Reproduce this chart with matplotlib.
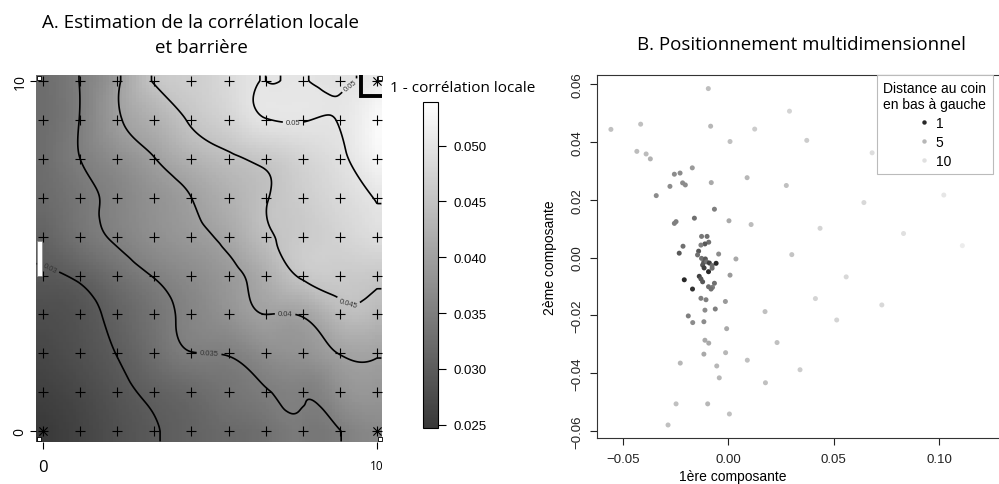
import numpy as np
import matplotlib
matplotlib.use('Agg')
import matplotlib.pyplot as plt
import matplotlib.tri as mtri
from matplotlib.colors import LinearSegmentedColormap, Normalize
from matplotlib.lines import Line2D
from matplotlib.patches import Rectangle

plt.rcParams['font.family'] = ['Liberation Sans', 'DejaVu Sans']
plt.rcParams['axes.unicode_minus'] = True
TITLE_FONT = ['Open Sans', 'DejaVu Sans']

# ---------------- Panel A data: local correlation on a 10x10 grid ----------------
grid_x = np.linspace(0, 10, 10)
grid_y = np.linspace(0, 10, 10)
# rows from y=0 (bottom) to y=10 (top); columns from x=0 to x=10
corr_rows = [
    [0.0250, 0.0265, 0.0283, 0.0298, 0.0310, 0.0320, 0.0330, 0.0343, 0.0349, 0.0365],
    [0.0260, 0.0272, 0.0290, 0.0307, 0.0320, 0.0335, 0.0348, 0.0353, 0.0376, 0.0385],
    [0.0270, 0.0283, 0.0301, 0.0327, 0.0349, 0.0352, 0.0372, 0.0381, 0.0401, 0.0403],
    [0.0280, 0.0288, 0.0310, 0.0335, 0.0360, 0.0380, 0.0400, 0.0403, 0.0437, 0.0435],
    [0.0295, 0.0306, 0.0329, 0.0352, 0.0370, 0.0390, 0.0420, 0.0455, 0.0462, 0.0458],
    [0.0310, 0.0335, 0.0355, 0.0375, 0.0390, 0.0410, 0.0444, 0.0462, 0.0475, 0.0490],
    [0.0322, 0.0340, 0.0359, 0.0380, 0.0400, 0.0424, 0.0448, 0.0466, 0.0484, 0.0502],
    [0.0325, 0.0350, 0.0373, 0.0399, 0.0426, 0.0444, 0.0458, 0.0476, 0.0494, 0.0525],
    [0.0325, 0.0351, 0.0395, 0.0424, 0.0454, 0.0475, 0.0499, 0.0501, 0.0501, 0.0530],
    [0.0325, 0.0351, 0.0394, 0.0453, 0.0466, 0.0485, 0.0500, 0.0501, 0.0496, 0.0510],
]
# a few extra readings between grid nodes (x, y, value)
extra_x = [7.20, 8.30, 8.30, 9.45, 9.60, 8.15, 7.55]
extra_y = [9.45, 9.45, 10.0, 9.45, 10.0, 0.55, 0.85]
extra_val = [0.0503, 0.0502, 0.0497, 0.0509, 0.0503, 0.0346, 0.0353]

contour_levels = [0.03, 0.035, 0.04, 0.045, 0.05]
label_positions = [(0.2, 4.66), (4.97, 2.17), (7.25, 3.37), (9.13, 3.63), (7.49, 8.71), (9.13, 9.95)]
corner_x = [0, 10, 10]
corner_y = [0, 0, 10]
square_x = [-0.12, 10.09, -0.12, 10.09]
square_y = [-0.23, -0.23, 10.09, 10.09]
barrier_x = [9.51, 9.51, 10.4]
barrier_y = [10.4, 9.56, 9.56]
cbar_ticks = [0.025, 0.030, 0.035, 0.040, 0.045, 0.050]
cbar_min, cbar_max = 0.0247, 0.0539

# ---------------- Panel B data: MDS coordinates and distance to corner ----------------
mds_x = [-0.0095, -0.0557, -0.0416, -0.0084, 0.0125, 0.0290, 0.0008, 0.0372, -0.0434, -0.0390,
         -0.0370, 0.0682, -0.0171, -0.0256, -0.0229, -0.0217, -0.0204, -0.0277, -0.0081, 0.0089,
         0.0275, -0.0342, 0.1022, 0.0643, -0.0066, -0.0161, -0.0248, -0.0256, 0.0003, 0.0108,
         0.0435, 0.0831, 0.1110, -0.0215, -0.0127, -0.0101, -0.0093, -0.0111, -0.0130, -0.0233,
         -0.0141, -0.0146, -0.0046, 0.0301, 0.0036,
         -0.0127, -0.0109, -0.0117, -0.0103, -0.0090, -0.0122, -0.0077, -0.0058, -0.0077, -0.0115,
         -0.0094, -0.0209, -0.0138, -0.0130, -0.0122, -0.0066, -0.0094, -0.0075, -0.0082, -0.0170,
         0.0008,
         0.0559, -0.0130, -0.0106, -0.0014, 0.0413, 0.0728, -0.0111, -0.0062, 0.0174, -0.0190,
         -0.0169, -0.0116, 0.0514, -0.0008, -0.0111, -0.0093, 0.0231, -0.0116, -0.0013, 0.0090,
         -0.0228, -0.0055, 0.0340, -0.0043, 0.0176, -0.0248, -0.0098, 0.0005, -0.0286]
mds_y = [0.0584, 0.0443, 0.0461, 0.0454, 0.0444, 0.0506, 0.0401, 0.0405, 0.0367, 0.0358,
         0.0341, 0.0362, 0.0310, 0.0288, 0.0292, 0.0258, 0.0251, 0.0246, 0.0259, 0.0276,
         0.0249, 0.0214, 0.0216, 0.0190, 0.0167, 0.0136, 0.0124, 0.0118, 0.0127, 0.0114,
         0.0101, 0.0083, 0.0041, 0.0039, 0.0073, 0.0073, 0.0053, 0.0047, 0.0043, 0.0015,
         0.0022, 0.0009, 0.0012, 0.0010, -0.0005,
         -0.0003, -0.0005, -0.0017, -0.0015, -0.0019, -0.0026, -0.0028, -0.0020, -0.0037, -0.0036,
         -0.0049, -0.0077, -0.0065, -0.0074, -0.0084, -0.0089, -0.0101, -0.0103, -0.0109, -0.0109,
         -0.0061,
         -0.0067, -0.0141, -0.0146, -0.0152, -0.0142, -0.0164, -0.0182, -0.0178, -0.0187, -0.0202,
         -0.0225, -0.0222, -0.0216, -0.0246, -0.0286, -0.0296, -0.0294, -0.0334, -0.0329, -0.0355,
         -0.0365, -0.0375, -0.0388, -0.0416, -0.0433, -0.0506, -0.0506, -0.0541, -0.0579]
mds_dist = [5.8, 6.0, 6.0, 5.0, 7.5, 8.5, 6.0, 7.5, 5.5, 5.5,
            4.8, 9.5, 4.0, 3.5, 3.5, 3.5, 3.5, 3.5, 4.5, 5.0,
            6.0, 3.5, 11.0, 9.0, 3.0, 2.5, 3.0, 3.0, 4.5, 5.5,
            8.5, 10.0, 12.0, 2.5, 2.8, 2.5, 2.5, 2.0, 3.0, 2.0,
            2.0, 2.5, 3.5, 6.5, 4.5,
            2.5, 2.0, 2.0, 2.5, 1.5, 2.0, 2.5, 1.0, 2.5, 1.5,
            1.0, 1.0, 1.5, 2.0, 2.0, 2.5, 2.5, 3.0, 2.5, 1.2,
            4.0,
            9.0, 3.0, 3.0, 4.0, 8.5, 9.0, 3.5, 3.0, 6.0, 3.0,
            3.5, 3.5, 8.5, 4.5, 4.5, 4.5, 6.0, 4.5, 5.0, 6.0,
            5.0, 5.0, 7.5, 5.0, 6.0, 6.0, 5.0, 6.0, 6.0]
legend_dists = [1, 5, 10]

# ---------------- figure ----------------
fig = plt.figure(figsize=(9.99, 4.85), dpi=100)
W, H = 999.0, 485.0

# ---- Panel A ----
axL = fig.add_axes([36 / W, 1 - 443 / H, 346 / W, 367 / H])
ex = (-0.21, 10.15)
ey = (-0.31, 10.17)
GX, GY = np.meshgrid(grid_x, grid_y)
Z = np.array(corr_rows)
pts_x = np.concatenate([GX.ravel(), extra_x])
pts_y = np.concatenate([GY.ravel(), extra_y])
pts_v = np.concatenate([Z.ravel(), extra_val])
triang = mtri.Triangulation(pts_x, pts_y)
interp = mtri.CubicTriInterpolator(triang, pts_v, kind='min_E')


def field(nx, ny):
    xe = np.linspace(ex[0], ex[1], nx + 1)
    ye = np.linspace(ey[0], ey[1], ny + 1)
    xc = 0.5 * (xe[:-1] + xe[1:])
    yc = 0.5 * (ye[:-1] + ye[1:])
    MX, MY = np.meshgrid(np.clip(xc, 1e-6, 10 - 1e-6), np.clip(yc, 1e-6, 10 - 1e-6))
    F = interp(MX, MY)
    return xc, yc, np.ma.filled(F, np.nan)


cmap_corr = LinearSegmentedColormap.from_list('grey_corr', ['#383838', '#ffffff'])
_, _, Fimg = field(104, 110)
im = axL.imshow(Fimg, extent=[ex[0], ex[1], ey[0], ey[1]], origin='lower', cmap=cmap_corr,
                vmin=cbar_min, vmax=cbar_max, interpolation='nearest', aspect='auto', zorder=1)
xc, yc, Fc = field(300, 300)
cs = axL.contour(xc, yc, Fc, levels=contour_levels, colors='black', linewidths=1.2, zorder=3)
axL.clabel(cs, fmt=lambda v: f'{v:g}', fontsize=5.5, inline=True, manual=label_positions,
           colors='#333333', inline_spacing=3)

axL.scatter(GX.ravel(), GY.ravel(), marker='+', s=45, c='black', linewidths=0.8, zorder=4)
axL.scatter(corner_x, corner_y, marker='x', s=35, c='black', linewidths=0.8, zorder=4)
axL.plot(barrier_x, barrier_y, color='black', lw=2.8, solid_capstyle='butt',
         solid_joinstyle='miter', zorder=5)
axL.add_patch(Rectangle((-0.18, 4.43), 0.15, 1.0, facecolor='white', edgecolor='#888888',
                        lw=0.5, zorder=5))
axL.scatter(square_x, square_y, marker='s', s=12, facecolor='white', edgecolor='black',
            linewidths=0.6, zorder=6, clip_on=False)

axL.set_xlim(ex)
axL.set_ylim(ey)
for s in axL.spines.values():
    s.set_visible(False)
axL.set_xticks([0, 10])
axL.set_yticks([0, 10])
axL.set_xticklabels(['0', '10'], family=TITLE_FONT)
axL.set_yticklabels(['0', '10'], family=TITLE_FONT, rotation=90, va='center', fontsize=10)
xl = axL.get_xticklabels()
xl[0].set_fontsize(12)
xl[1].set_fontsize(8.5)
axL.tick_params(axis='x', direction='out', length=5, width=0.8, pad=7)
axL.tick_params(axis='y', direction='out', length=4.5, width=0.8, pad=1.5)

fig.text(201 / W, 1 - 28 / H, 'A. Estimation de la corrélation locale', ha='center',
         va='baseline', fontsize=13.5, family=TITLE_FONT)
fig.text(201 / W, 1 - 53 / H, 'et barrière', ha='center', va='baseline', fontsize=13.5,
         family=TITLE_FONT)

# colorbar
cax = fig.add_axes([423 / W, 1 - 429 / H, 15 / W, 326 / H])
cb = fig.colorbar(im, cax=cax, ticks=cbar_ticks)
cb.ax.set_yticklabels([f'{t:.3f}' for t in cbar_ticks])
cb.outline.set_linewidth(0.8)
cb.ax.tick_params(direction='out', length=6, width=0.8, pad=5, labelsize=9.5)
fig.text(390 / W, 1 - 88 / H, '1 - corrélation locale', ha='left', va='center',
         fontsize=11, family=TITLE_FONT)

# ---- Panel B ----
axR = fig.add_axes([597 / W, 1 - 439 / H, 413 / W, 363 / H])
dist_nodes = [0, 1, 2.5, 5, 10, 13]
gray_nodes = [0.10, 0.16, 0.44, 0.72, 0.88, 0.95]
dist_cmap = LinearSegmentedColormap.from_list(
    'dist', [(d / 13.0, (g, g, g)) for d, g in zip(dist_nodes, gray_nodes)])
dnorm = Normalize(0, 13)
axR.scatter(mds_x, mds_y, c=mds_dist, cmap=dist_cmap, norm=dnorm, s=13, linewidths=0, zorder=3)
axR.set_xlim(-0.0623, 0.1336)
axR.set_ylim(-0.0624, 0.0631)
axR.set_xticks([-0.05, 0.0, 0.05, 0.10])
axR.set_xticklabels(['\u22120.05', '0.00', '0.05', '0.10'])
axR.set_yticks([-0.06, -0.04, -0.02, 0.0, 0.02, 0.04, 0.06])
axR.set_yticklabels(['\u22120.06', '\u22120.04', '\u22120.02', '0.00', '0.02', '0.04', '0.06'],
                    rotation=90, va='center')
axR.tick_params(direction='out', length=5, width=0.8, labelsize=9.5, colors='#222222')
axR.tick_params(axis='x', pad=6)
axR.tick_params(axis='y', pad=5)
for s in axR.spines.values():
    s.set_linewidth(0.8)
    s.set_color('#333333')
axR.set_xlabel('1ère composante', fontsize=10)
axR.set_ylabel('2ème composante', fontsize=10)
axR.xaxis.set_label_coords((733 - 597) / 413.0, (439 - 470) / 363.0)
axR.yaxis.set_label_coords((557 - 597) / 413.0, 0.5)

handles = [Line2D([], [], marker='o', ls='', markersize=3.2, markeredgewidth=0,
                  color=dist_cmap(dnorm(d))) for d in legend_dists]
leg = axR.legend(handles, [str(d) for d in legend_dists], title='Distance au coin\nen bas à gauche',
                 loc='upper left', bbox_to_anchor=(877 / W, 1 - 76 / H), bbox_transform=fig.transFigure,
                 frameon=True, fancybox=False, edgecolor='#bbbbbb', framealpha=1, borderpad=0.45,
                 handlelength=0.8, handletextpad=0.45, labelspacing=0.35, borderaxespad=0,
                 fontsize=10, title_fontsize=10)
leg.get_frame().set_linewidth(0.8)
leg.get_title().set_multialignment('center')

fig.text(801.5 / W, 1 - 50 / H, 'B. Positionnement multidimensionnel', ha='center', va='baseline',
         fontsize=13.5, family=TITLE_FONT)

fig.savefig('out.png', dpi=100)
